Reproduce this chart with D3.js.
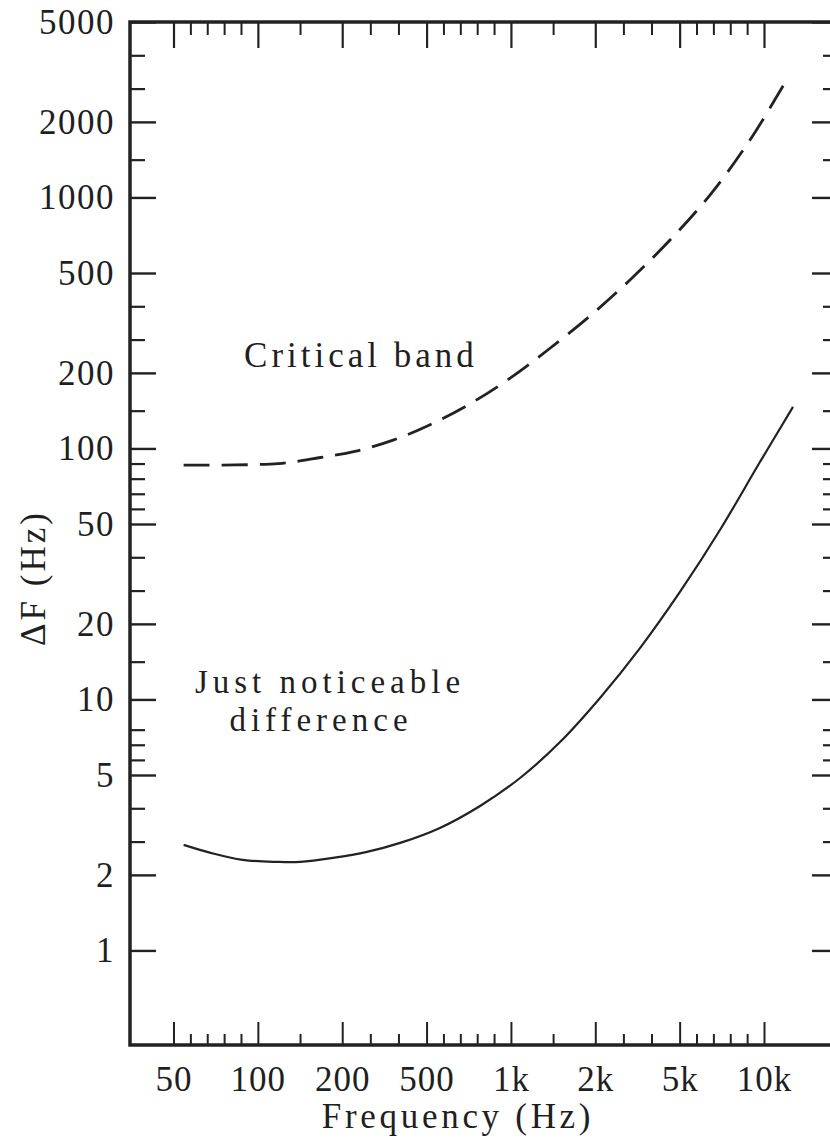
<!DOCTYPE html>
<html>
<head>
<meta charset="utf-8">
<script src="https://cdn.jsdelivr.net/npm/d3@7"></script>
<style>
  html, body { margin: 0; padding: 0; background: #fff; }
  svg { display: block; }
  text { font-family: 'Liberation Serif', 'DejaVu Serif', serif; fill: #1f1f1f; }
</style>
</head>
<body>
<div id="chart"></div>
<script>
// frequency axis (Hz)
const freqTicks = [50, 100, 200, 500, 1000, 2000, 5000, 10000]
const freqLabels = ['50', '100', '200', '500', '1k', '2k', '5k', '10k']
const freqMinor = [60, 70, 80, 90, 150, 300, 400, 600, 700, 800, 900, 1500, 3000, 4000, 6000, 7000, 8000, 9000]
// delta F axis (Hz)
const dfTicks = [1, 2, 5, 10, 20, 50, 100, 200, 500, 1000, 2000, 5000]
const dfMinor = [3, 4, 6, 7, 8, 15, 30, 40, 60, 70, 80, 90, 150, 300, 400, 1500, 3000, 4000]
// critical band (dashed)
const cbFreq = [56, 124, 174, 245, 381, 508, 757, 995, 1463, 1938, 3234, 4657, 6796, 9167, 11300]
const cbWidth = [89, 90, 94, 98, 111, 130, 159, 193, 274, 371, 479, 718, 1032, 1759, 3226]
// just noticeable difference (solid)
const jndFreq = [56, 72, 91, 123, 150, 189, 288, 406, 579, 817, 1108, 1582, 2167, 3590, 5018, 7389, 9759, 11719]
const jndDiff = [2.9, 2.66, 2.45, 2.39, 2.39, 2.51, 2.69, 2.96, 3.41, 4.07, 4.91, 7.18, 10.2, 16.8, 29.6, 48.2, 91, 155]

const width = 830
const height = 1140
const margin = { top: 22, right: -7, bottom: 95, left: 130 }
const fontSize = 35

const svg = d3.select('#chart')
  .append('svg')
  .attr('width', width)
  .attr('height', height)
  .attr('viewBox', [0, 0, width, height])

// labelled frequencies are equally spaced, minor ticks fall linearly in between
const xStart = 173.5
const xEnd = 764
const xScale = d3.scaleLinear()
  .domain(freqTicks)
  .range(freqTicks.map((d, i) => xStart + i * (xEnd - xStart) / (freqTicks.length - 1)))

// labelled delta F values sit on a log grid, minor ticks fall linearly in between
const yLog = d3.scaleLog()
  .domain([0.42, 5000])
  .range([height - margin.bottom, margin.top])
const yDomain = [0.42].concat(dfTicks)
const yScale = d3.scaleLinear()
  .domain(yDomain)
  .range(yDomain.map(d => yLog(d)))

const right = width - margin.right
const bottom = height - margin.bottom

function styleAxis (g, width) {
  g.attr('font-size', null).attr('font-family', null)
  g.select('.domain').remove()
  g.selectAll('line').attr('stroke', '#222').attr('stroke-width', width)
}

// bottom
svg.append('g')
  .attr('transform', `translate(0, ${bottom})`)
  .call(d3.axisBottom(xScale).tickValues(freqTicks).tickSize(-23).tickPadding(21).tickFormat((d, i) => freqLabels[i]))
  .call(g => styleAxis(g, 2))
  .selectAll('text')
  .attr('font-size', fontSize)
  .attr('letter-spacing', 1)
svg.append('g')
  .attr('transform', `translate(0, ${bottom})`)
  .call(d3.axisBottom(xScale).tickValues(freqMinor).tickSize(-11).tickFormat(''))
  .call(g => styleAxis(g, 2))

// top
svg.append('g')
  .attr('transform', `translate(0, ${margin.top})`)
  .call(d3.axisTop(xScale).tickValues(freqTicks).tickSize(-26).tickFormat(''))
  .call(g => styleAxis(g, 2.2))
svg.append('g')
  .attr('transform', `translate(0, ${margin.top})`)
  .call(d3.axisTop(xScale).tickValues(freqMinor).tickSize(-13).tickFormat(''))
  .call(g => styleAxis(g, 2))

// left
svg.append('g')
  .attr('transform', `translate(${margin.left}, 0)`)
  .call(d3.axisLeft(yScale).tickValues(dfTicks).tickSize(-26).tickPadding(15).tickFormat(d3.format('d')))
  .call(g => styleAxis(g, 2.4))
  .selectAll('text')
  .attr('font-size', fontSize)
  .attr('letter-spacing', 1.5)
svg.append('g')
  .attr('transform', `translate(${margin.left}, 0)`)
  .call(d3.axisLeft(yScale).tickValues(dfMinor).tickSize(-15).tickFormat(''))
  .call(g => styleAxis(g, 2.2))

// right
svg.append('g')
  .attr('transform', `translate(${right}, 0)`)
  .call(d3.axisRight(yScale).tickValues(dfTicks).tickSize(-25).tickFormat(''))
  .call(g => styleAxis(g, 2.4))
svg.append('g')
  .attr('transform', `translate(${right}, 0)`)
  .call(d3.axisRight(yScale).tickValues(dfMinor).tickSize(-14).tickFormat(''))
  .call(g => styleAxis(g, 2.2))

// frame
svg.append('rect')
  .attr('x', margin.left)
  .attr('y', margin.top)
  .attr('width', right - margin.left)
  .attr('height', bottom - margin.top)
  .attr('fill', 'none')
  .attr('stroke', '#222')
  .attr('stroke-width', 3.5)

const line = d3.line()
  .x(d => xScale(d[0]))
  .y(d => yScale(d[1]))
  .curve(d3.curveCatmullRom.alpha(0.5))

svg.append('path')
  .attr('d', line(cbFreq.map((f, i) => [f, cbWidth[i]])))
  .attr('fill', 'none')
  .attr('stroke', '#222')
  .attr('stroke-width', 2.8)
  .attr('stroke-dasharray', '26,12')

svg.append('path')
  .attr('d', line(jndFreq.map((f, i) => [f, jndDiff[i]])))
  .attr('fill', 'none')
  .attr('stroke', '#222')
  .attr('stroke-width', 2.2)

// labels
svg.append('text')
  .attr('x', 361)
  .attr('y', 367)
  .attr('text-anchor', 'middle')
  .attr('font-size', fontSize)
  .attr('letter-spacing', 4)
  .text('Critical band')
svg.append('text')
  .attr('x', 330)
  .attr('y', 693)
  .attr('text-anchor', 'middle')
  .attr('font-size', 33)
  .attr('letter-spacing', 5)
  .text('Just noticeable')
svg.append('text')
  .attr('x', 321)
  .attr('y', 731)
  .attr('text-anchor', 'middle')
  .attr('font-size', 33)
  .attr('letter-spacing', 5)
  .text('difference')
svg.append('text')
  .attr('x', 458)
  .attr('y', 1128)
  .attr('text-anchor', 'middle')
  .attr('font-size', fontSize)
  .attr('letter-spacing', 3.7)
  .text('Frequency (Hz)')
svg.append('text')
  .attr('transform', 'translate(45, 578) rotate(-90)')
  .attr('text-anchor', 'middle')
  .attr('font-size', fontSize)
  .attr('letter-spacing', 3)
  .text('ΔF (Hz)')
</script>
</body>
</html>
